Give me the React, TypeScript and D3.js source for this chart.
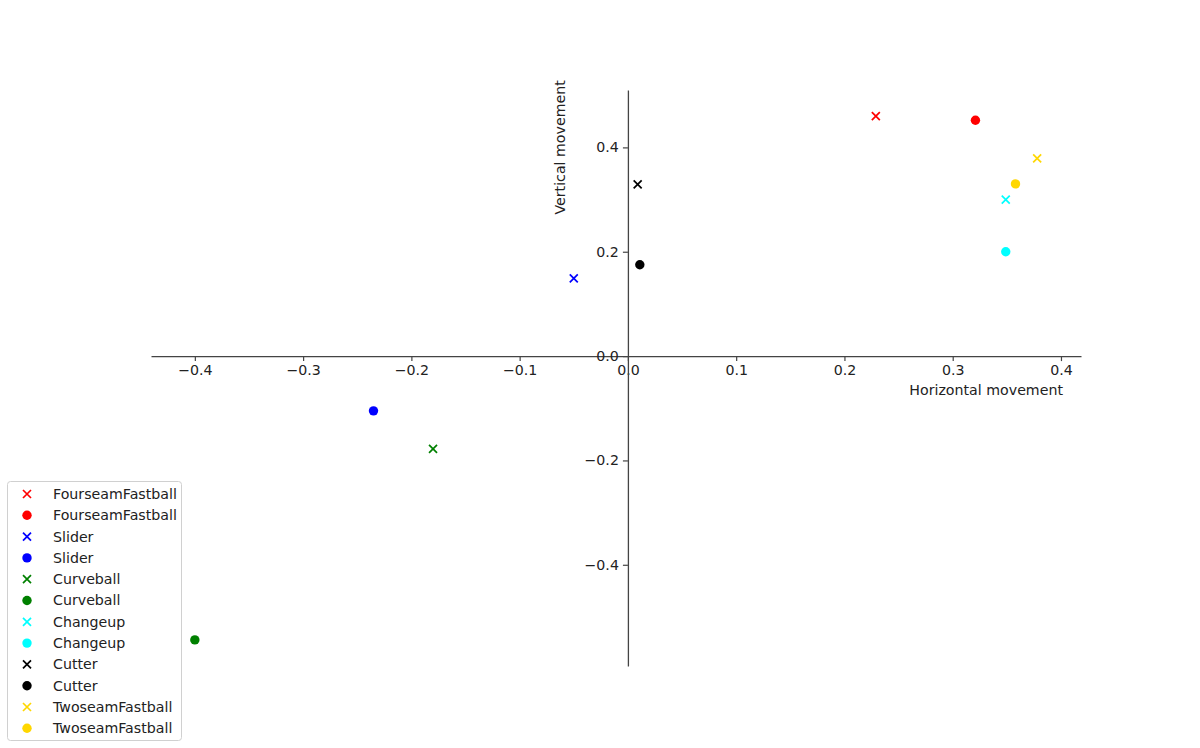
import { useEffect, useRef } from "react";
import * as d3 from "d3";

const W = 1200;
const H = 748;

// pitch types, each drawn twice: x-marker and dot
const pitchTypes = ["FourseamFastball", "Slider", "Curveball", "Changeup", "Cutter", "TwoseamFastball"];
const pitchColors = ["#ff0000", "#0000ff", "#008000", "#00ffff", "#000000", "#ffd700"];

// x-marker series (horizontal, vertical)
const crossH = [0.229, -0.05, -0.18, 0.349, 0.009, 0.378];
const crossV = [0.46, 0.149, -0.178, 0.3, 0.329, 0.379];

// dot series
const dotH = [0.321, -0.235, -0.4, 0.349, 0.011, 0.358];
const dotV = [0.452, -0.105, -0.544, 0.2, 0.175, 0.33];

const xTicks = [-0.4, -0.3, -0.2, -0.1, 0.0, 0.1, 0.2, 0.3, 0.4];
const yTicks = [-0.4, -0.2, 0.0, 0.2, 0.4];

const FONT = "'DejaVu Sans', sans-serif";
const FS = 14.2;
const AXIS = "#444";

export default function App() {
  const svgRef = useRef<SVGSVGElement>(null);

  useEffect(() => {
    if (!svgRef.current) return;
    const svg = d3.select(svgRef.current);
    svg.selectAll("*").remove();

    const x = d3.scaleLinear().domain([-0.4405, 0.4185]).range([151, 1081]);
    const y = d3.scaleLinear().domain([0.51, -0.594]).range([90, 666]);
    const fmt = d3.format(".1f");

    // x axis through y=0
    svg
      .append("g")
      .attr("transform", `translate(0,${y(0)})`)
      .call(d3.axisBottom(x).tickValues(xTicks).tickFormat((d) => fmt(d as number)).tickSize(5).tickSizeOuter(0).tickPadding(4))
      .call((g) => g.select(".domain").attr("stroke", AXIS).attr("stroke-width", 1.3))
      .call((g) => g.selectAll("line").attr("stroke", AXIS).attr("stroke-width", 1.2))
      .call((g) => g.selectAll("text").attr("fill", "#222").attr("font-size", FS).attr("font-family", FONT));

    // y axis through x=0
    svg
      .append("g")
      .attr("transform", `translate(${x(0)},0)`)
      .call(d3.axisLeft(y).tickValues(yTicks).tickFormat((d) => fmt(d as number)).tickSize(5).tickSizeOuter(0).tickPadding(4))
      .call((g) => g.select(".domain").attr("stroke", AXIS).attr("stroke-width", 1.3))
      .call((g) => g.selectAll("line").attr("stroke", AXIS).attr("stroke-width", 1.2))
      .call((g) => g.selectAll("text").attr("fill", "#222").attr("font-size", FS).attr("font-family", FONT));

    svg
      .append("text")
      .attr("x", x(0.4) + 2)
      .attr("y", y(0) + 39)
      .attr("text-anchor", "end")
      .attr("font-size", FS)
      .attr("font-family", FONT)
      .attr("fill", "#222")
      .text("Horizontal movement");

    svg
      .append("text")
      .attr("transform", `translate(${x(0) - 68},${y(0.4)}) rotate(-90)`)
      .attr("text-anchor", "middle")
      .attr("dy", "0.35em")
      .attr("font-size", FS)
      .attr("font-family", FONT)
      .attr("fill", "#222")
      .text("Vertical movement");

    const cross = (g: d3.Selection<SVGGElement, unknown, null, undefined>, cx: number, cy: number, c: string) => {
      const s = 4;
      g.append("path")
        .attr("d", `M${cx - s},${cy - s}L${cx + s},${cy + s}M${cx - s},${cy + s}L${cx + s},${cy - s}`)
        .attr("stroke", c)
        .attr("stroke-width", 1.7)
        .attr("fill", "none");
    };

    const marks = svg.append("g");
    pitchTypes.forEach((_, i) => {
      cross(marks, x(crossH[i]), y(crossV[i]), pitchColors[i]);
      marks
        .append("circle")
        .attr("cx", x(dotH[i]))
        .attr("cy", y(dotV[i]))
        .attr("r", 4.7)
        .attr("fill", pitchColors[i]);
    });

    // legend
    const lg = svg.append("g");
    lg.append("rect")
      .attr("x", 7.5)
      .attr("y", 481.5)
      .attr("width", 174)
      .attr("height", 259)
      .attr("rx", 3)
      .attr("fill", "#fff")
      .attr("stroke", "#d0d0d0");
    pitchTypes.forEach((name, i) => {
      [0, 1].forEach((k) => {
        const row = i * 2 + k;
        const ry = 494 + row * 21.3;
        if (k === 0) cross(lg, 27, ry, pitchColors[i]);
        else lg.append("circle").attr("cx", 27).attr("cy", ry).attr("r", 4.7).attr("fill", pitchColors[i]);
        lg.append("text")
          .attr("x", 53)
          .attr("y", ry)
          .attr("dy", "0.35em")
          .attr("font-size", FS)
          .attr("font-family", FONT)
          .attr("fill", "#222")
          .text(name);
      });
    });
  }, []);

  return (
    <svg
      ref={svgRef}
      width={W}
      height={H}
      style={{ position: "absolute", left: 0, top: 0, background: "#fff" }}
    />
  );
}
